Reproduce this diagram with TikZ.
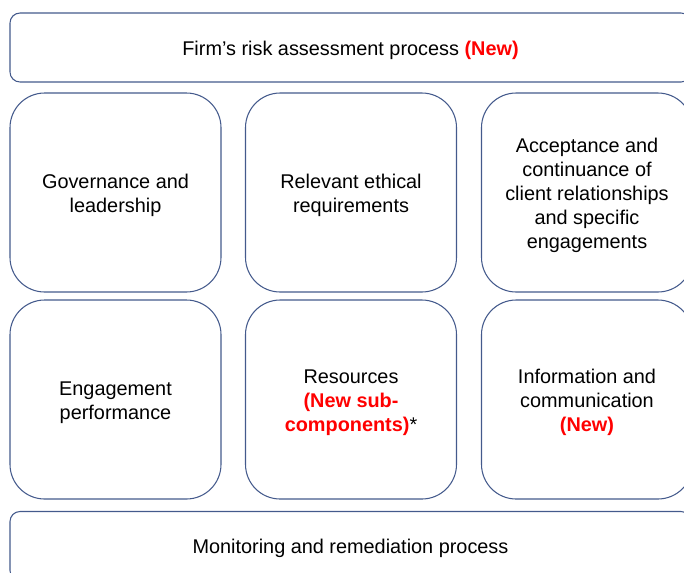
\documentclass[tikz,border=0pt]{standalone}
\usepackage{fontspec}
\setmainfont{Liberation Sans}

\definecolor{BoxEdge}{RGB}{68,90,140}
\definecolor{NewRed}{RGB}{255,0,0}
\newcommand{\newtag}[1]{\textcolor{NewRed}{\bfseries #1}}
\newcommand{\lift}{\rule{0pt}{14.6pt}}

\tikzset{
    every node/.style={font=\fontsize{14.9}{18}\selectfont, align=center},
    barbox/.style={draw=BoxEdge, line width=0.8pt, rounded corners=7.5pt,
        minimum width=510.75pt, minimum height=51.75pt, inner sep=0pt},
    areabox/.style={draw=BoxEdge, line width=0.8pt, rounded corners=26pt,
        minimum width=158.25pt, minimum height=149.25pt, inner sep=0pt},
}

\begin{document}
\begin{tikzpicture}[x=0.75pt, y=-0.75pt]

    \useasboundingbox (0, 0) rectangle (684, 572);
    \clip (0, 0) rectangle (684, 572);

    \coordinate (Top)    at (350.5, 47.5);
    \coordinate (Bottom) at (350.5, 546);

    \node[barbox] (riskProcess) at (Top)
        {\lift Firm’s risk assessment process \newtag{(New)}};

    \node[areabox] (governance) at (115.5, 192.5) {\lift Governance and\\leadership};
    \node[areabox] (ethics)     at (351, 192.5) {\lift Relevant ethical\\requirements};
    \node[areabox] (acceptance) at (587, 192.5)
        {\lift Acceptance and\\continuance of\\client relationships\\and specific\\engagements};

    \node[areabox] (performance) at (115.5, 399.5) {\lift Engagement\\performance};
    \node[areabox] (resources)   at (351, 399.5)
        {\lift Resources\\\newtag{(New sub-}\\\newtag{components)}*};
    \node[areabox] (information) at (587, 399.5)
        {\lift Information and\\communication\\\newtag{(New)}};

    \node[barbox] (monitoring) at (Bottom) {\lift Monitoring and remediation process};
\end{tikzpicture}
\end{document}
